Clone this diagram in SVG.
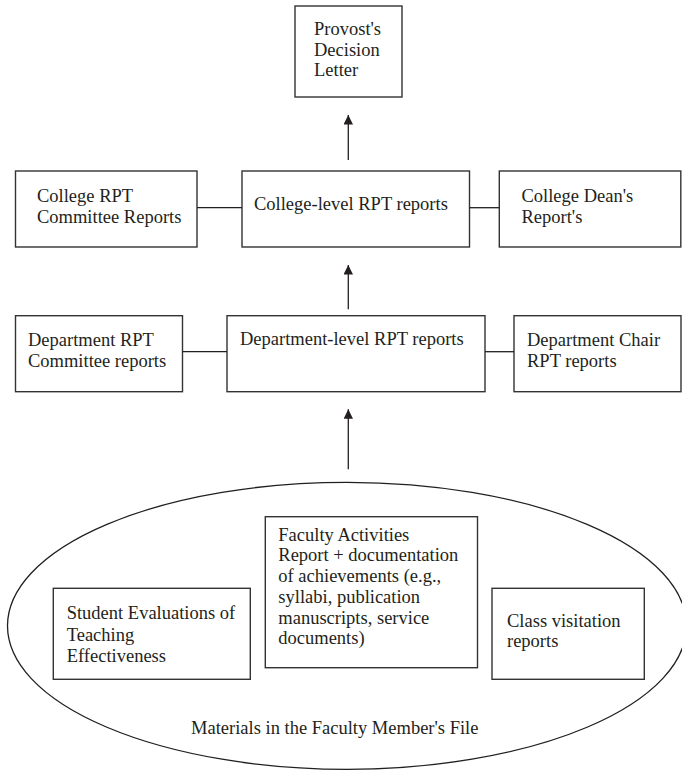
<svg xmlns="http://www.w3.org/2000/svg" width="682" height="770" viewBox="0 0 682 770">
<style>
.box{fill:#fff;stroke:#333;stroke-width:1.4}
.t{font-family:"Liberation Serif","Times New Roman",serif;font-size:18.5px;fill:#231f20}
.c{stroke:#231f20;stroke-width:1.3;fill:none}
.ell{fill:none;stroke:#231f20;stroke-width:1.3}
</style>
<defs>
<marker id="ah" viewBox="0 0 10 10" refX="10" refY="5" markerWidth="10" markerHeight="9.5" markerUnits="userSpaceOnUse" orient="auto">
<path d="M0,0 L10,5 L0,10 z" fill="#231f20"/>
</marker>
</defs>
<rect width="682" height="770" fill="#fff"/>
<g id="materials">
<ellipse class="ell" cx="347" cy="625.8" rx="339.5" ry="143.5"/>
<text class="t" x="191" y="733.5">Materials in the Faculty Member's File</text>
</g>
<g id="provost">
<rect class="box" x="295" y="6" width="107" height="91"/>
<text class="t" x="314" y="35">Provost's</text>
<text class="t" x="314" y="55.5">Decision</text>
<text class="t" x="314" y="76">Letter</text>
</g>
<g id="college-committee">
<rect class="box" x="15.5" y="171" width="181.5" height="76"/>
<text class="t" x="37" y="201.7">College RPT</text>
<text class="t" x="37" y="222.7">Committee Reports</text>
</g>
<g id="college-level">
<rect class="box" x="242" y="171" width="227.5" height="76"/>
<text class="t" x="254" y="210">College-level RPT reports</text>
</g>
<g id="college-dean">
<rect class="box" x="499.3" y="171" width="181.5" height="76"/>
<text class="t" x="521.5" y="201.7">College Dean's</text>
<text class="t" x="521.5" y="222.7">Report's</text>
</g>
<g id="dept-committee">
<rect class="box" x="15.5" y="315.7" width="167" height="76"/>
<text class="t" x="28" y="346">Department RPT</text>
<text class="t" x="28" y="366.7">Committee reports</text>
</g>
<g id="dept-level">
<rect class="box" x="227" y="315.7" width="258" height="76"/>
<text class="t" x="240" y="345">Department-level RPT reports</text>
</g>
<g id="dept-chair">
<rect class="box" x="514" y="315.7" width="167" height="76"/>
<text class="t" x="527" y="346">Department Chair</text>
<text class="t" x="527" y="366.7">RPT reports</text>
</g>
<g id="student-evals">
<rect class="box" x="53.3" y="588.3" width="197" height="91"/>
<text class="t" x="66.7" y="619.3">Student Evaluations of</text>
<text class="t" x="66.7" y="640.5">Teaching</text>
<text class="t" x="66.7" y="661.7">Effectiveness</text>
</g>
<g id="faculty-activities">
<rect class="box" x="265.3" y="516.7" width="212.2" height="151"/>
<text class="t" x="278.3" y="540.7">Faculty Activities</text>
<text class="t" x="278.3" y="561.4">Report + documentation</text>
<text class="t" x="278.3" y="582.1">of achievements (e.g.,</text>
<text class="t" x="278.3" y="602.8">syllabi, publication</text>
<text class="t" x="278.3" y="623.5">manuscripts, service</text>
<text class="t" x="278.3" y="644.2">documents)</text>
</g>
<g id="class-visitation">
<rect class="box" x="492" y="588.3" width="152.3" height="91"/>
<text class="t" x="507" y="626.7">Class visitation</text>
<text class="t" x="507" y="646.9">reports</text>
</g>
<g id="connectors">
<line class="c" x1="348.3" y1="160" x2="348.3" y2="115" marker-end="url(#ah)"/>
<line class="c" x1="348.3" y1="309.3" x2="348.3" y2="265" marker-end="url(#ah)"/>
<line class="c" x1="348.3" y1="469.3" x2="348.3" y2="409.3" marker-end="url(#ah)"/>
<line class="c" x1="197" y1="207.7" x2="242" y2="207.7"/>
<line class="c" x1="469.5" y1="207.7" x2="499.3" y2="207.7"/>
<line class="c" x1="182.5" y1="351.7" x2="227" y2="351.7"/>
<line class="c" x1="485" y1="351.7" x2="514" y2="351.7"/>
</g>
</svg>
